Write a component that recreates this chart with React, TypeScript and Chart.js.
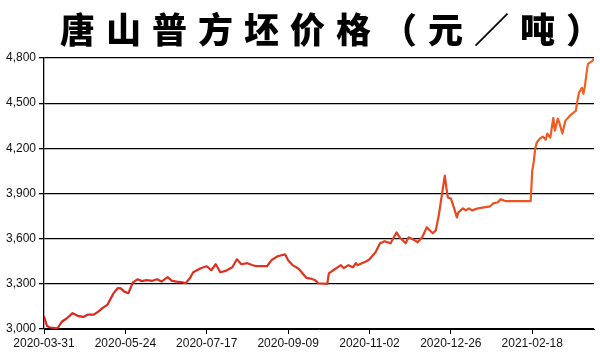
import React, { useEffect, useRef } from "react";
import { Chart, registerables } from "chart.js";

Chart.register(...registerables);

const titleText = "唐山普方坯价格（元／吨）";

// day offsets from 2020-03-31 and price (元/吨)
const dayOffsets = [
  0, 2, 4, 9, 12, 15, 19, 23, 26, 29, 33, 36, 39, 42, 46, 49, 51, 53, 56, 59,
  62, 65, 68, 72, 75, 78, 82, 85, 88, 92, 94, 97, 99, 104, 108, 111, 114, 117, 120, 125,
  128, 131, 135, 138, 141, 148, 151, 155, 160, 162, 165, 169, 171, 174, 177, 180, 182, 188, 189, 192,
  197, 199, 202, 205, 207, 208, 214, 216, 220, 223, 226, 230, 234, 236, 240, 242, 246, 248, 251, 254,
  258, 260, 262, 265, 266, 267, 268, 270, 272, 274, 275, 278, 280, 282, 284, 288, 292, 296, 298, 301,
  303, 306, 323, 324, 325, 326, 327, 329, 331, 333, 334, 336, 338, 339, 341, 342, 344, 346, 349, 353,
  354, 355, 357, 358, 359, 360, 361, 364, 365,
];

const prices = [
  3085, 3020, 3010, 3005, 3050, 3070, 3105, 3085, 3080, 3095, 3095, 3115, 3140, 3160, 3235, 3272, 3270, 3250, 3238, 3310,
  3330, 3318, 3325, 3320, 3330, 3315, 3344, 3320, 3315, 3310, 3304, 3340, 3377, 3404, 3417, 3390, 3430, 3377, 3384, 3410,
  3463, 3430, 3437, 3425, 3417, 3417, 3457, 3483, 3496, 3457, 3424, 3400, 3377, 3340, 3335, 3324, 3304, 3300, 3370, 3390,
  3424, 3404, 3424, 3410, 3437, 3424, 3450, 3463, 3510, 3569, 3583, 3569, 3642, 3609, 3569, 3609, 3589, 3576, 3609, 3675,
  3636, 3655, 3755, 3953, 4019, 3940, 3874, 3867, 3808, 3741, 3775, 3801, 3788, 3801, 3788, 3801, 3808, 3814, 3834, 3840,
  3861, 3850, 3850, 4050, 4110, 4198, 4238, 4264, 4278, 4258, 4298, 4271, 4403, 4317, 4397, 4370, 4298, 4384, 4417, 4450,
  4516, 4569, 4602, 4562, 4615, 4695, 4761, 4781, 4800,
];

const xTickDays = [0, 54, 108, 162, 216, 270, 324];
const xTickLabels = [
  "2020-03-31",
  "2020-05-24",
  "2020-07-17",
  "2020-09-09",
  "2020-11-02",
  "2020-12-26",
  "2021-02-18",
];
const yTicks = [3000, 3300, 3600, 3900, 4200, 4500, 4800];

export default function App() {
  const canvasRef = useRef<HTMLCanvasElement | null>(null);

  useEffect(() => {
    document.body.style.margin = "0";
    const canvas = canvasRef.current;
    if (!canvas) return;
    const points = dayOffsets.map((d, i) => ({ x: d, y: prices[i] }));
    const chart = new Chart(canvas, {
      type: "line",
      data: {
        datasets: [
          {
            data: points,
            borderColor: (ctx: any) => {
              const area = ctx.chart.chartArea;
              if (!area) return "#e2381f";
              const g = ctx.chart.ctx.createLinearGradient(area.left, 0, area.right, 0);
              g.addColorStop(0, "#d9261f");
              g.addColorStop(0.6, "#e2381f");
              g.addColorStop(1, "#f26424");
              return g;
            },
            borderWidth: 2.2,
            pointRadius: 0,
            tension: 0,
            borderJoinStyle: "round",
          },
        ],
      },
      options: {
        animation: false,
        responsive: false,
        maintainAspectRatio: false,
        layout: { padding: { top: 58, right: 6, left: 0, bottom: 0 } },
        plugins: {
          legend: { display: false },
          tooltip: { enabled: false },
          title: { display: false },
        },
        scales: {
          x: {
            type: "linear",
            min: 0,
            max: 365,
            afterBuildTicks: (scale: any) => {
              scale.ticks = xTickDays.map((v) => ({ value: v }));
            },
            afterFit: (scale: any) => {
              scale.height = 31;
            },
            ticks: {
              autoSkip: false,
              maxRotation: 0,
              padding: 2,
              color: "#111",
              font: { family: "Liberation Sans", size: 12 },
              callback: (v: any) => {
                const i = xTickDays.indexOf(Number(v));
                return i >= 0 ? xTickLabels[i] : "";
              },
            },
            grid: {
              drawOnChartArea: false,
              drawTicks: true,
              tickLength: 5,
              color: "#000",
            },
            border: { display: true, color: "#000", width: 1 },
          },
          y: {
            type: "linear",
            min: 3000,
            max: 4800,
            afterBuildTicks: (scale: any) => {
              scale.ticks = yTicks.map((v) => ({ value: v }));
            },
            afterFit: (scale: any) => {
              scale.width = 44;
            },
            ticks: {
              padding: 3,
              color: "#111",
              font: { family: "Liberation Sans", size: 12 },
              callback: (v: any) => Number(v).toLocaleString("en-US"),
            },
            grid: {
              color: "#000",
              lineWidth: 1.3,
              drawTicks: true,
              tickLength: 5,
            },
            border: { display: true, color: "#000", width: 1.3 },
          },
        },
      },
    });
    return () => chart.destroy();
  }, []);

  return (
    <div style={{ position: "relative", width: 600, height: 360, background: "#fff" }}>
      <canvas ref={canvasRef} width={600} height={360} style={{ display: "block" }} />
      <div
        style={{
          position: "absolute",
          left: 0,
          top: 6,
          width: 600,
          paddingLeft: 60,
          boxSizing: "border-box",
          textAlign: "center",
          whiteSpace: "nowrap",
          fontFamily: "'Noto Sans CJK SC', sans-serif",
          fontWeight: 900,
          fontSize: 35,
          letterSpacing: 11,
          lineHeight: "44px",
          color: "#000",
        }}
      >
        {titleText}
      </div>
    </div>
  );
}
